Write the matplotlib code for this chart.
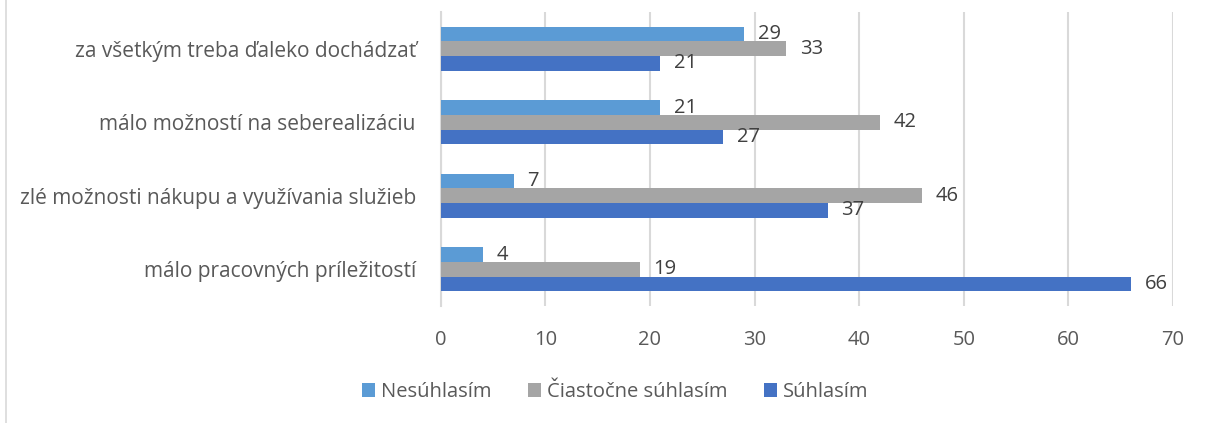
import matplotlib.pyplot as plt
import numpy as np
from matplotlib.lines import Line2D

categories = ["za všetkým treba ďaleko dochádzať",
              "málo možností na seberealizáciu",
              "zlé možnosti nákupu a využívania služieb",
              "málo pracovných príležitostí"]
series_names = ["Nesúhlasím", "Čiastočne súhlasím", "Súhlasím"]
nesuhlasim = [29, 21, 7, 4]
ciastocne = [33, 42, 46, 19]
suhlasim = [21, 27, 37, 66]
colors = ["#5B9BD5", "#A5A5A5", "#4472C4"]

plt.rcParams['font.family'] = ['Open Sans', 'DejaVu Sans']
text_color = "#595959"

fig = plt.figure(figsize=(12.11, 4.23), dpi=100)
ax = fig.add_axes([0.364, 0.2766, 0.6046, 0.695])

y = np.arange(len(categories))
h = 0.2
values = [nesuhlasim, ciastocne, suhlasim]
for i, (name, vals) in enumerate(zip(series_names, values)):
    pos = y + (i - 1) * h
    ax.barh(pos, vals, height=h, color=colors[i], label=name, zorder=3)
    for p, v in zip(pos, vals):
        ax.text(v + 1.3, p, str(v), va="center", ha="left", fontsize=14.5, color="#404040")

ax.set_ylim(len(categories) - 0.5, -0.5)
ax.set_xlim(0, 70)
ax.set_xticks(range(0, 71, 10))
ax.set_yticks(y)
ax.set_yticklabels(categories, fontsize=15)
ax.tick_params(axis="both", length=0, labelsize=14.5, labelcolor=text_color)
ax.tick_params(axis="y", labelsize=15, pad=18)
ax.tick_params(axis="x", pad=17)
ax.grid(axis="x", color="#D9D9D9", linewidth=1.5, zorder=0)
for s in ["top", "right", "bottom"]:
    ax.spines[s].set_visible(False)
ax.spines["left"].set_color("#D9D9D9")
ax.spines["left"].set_linewidth(1.5)

fig.legend(loc="center", bbox_to_anchor=(0.508, 0.073), ncol=3, frameon=False,
           fontsize=14.5, labelcolor=text_color, handlelength=0.65, handleheight=0.65,
           handletextpad=0.3, columnspacing=1.8)

fig.add_artist(Line2D([0.005, 0.005], [0.0, 1.0], color="#D9D9D9", linewidth=1.2,
                      transform=fig.transFigure))

fig.savefig("out.png", dpi=100)
